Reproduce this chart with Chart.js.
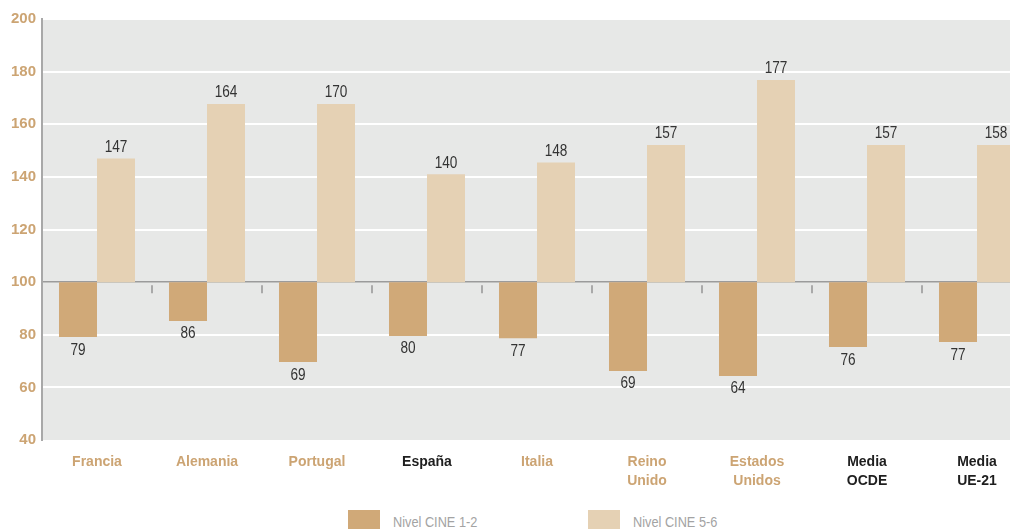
<!DOCTYPE html>
<html>
<head>
<meta charset="utf-8">
<script src="https://cdn.jsdelivr.net/npm/chart.js@4.4.1/dist/chart.umd.min.js"></script>
<style>
  html, body { margin: 0; padding: 0; background: #ffffff; overflow: hidden; }
  #wrap { position: relative; width: 1010px; height: 529px; overflow: hidden; }
  #c { position: absolute; left: 0; top: 0; }
  .leg { position: absolute; top: 510px; height: 19px; font-family: "Liberation Sans", Arial, sans-serif; font-size: 15px; color: #a3a3a3; }
  .sw { position: absolute; width: 32px; height: 19px; }
  .lt { position: absolute; top: 4px; white-space: nowrap; line-height: 15px; transform: scaleX(0.85); transform-origin: 0 0; }
</style>
</head>
<body>
<div id="wrap">
  <canvas id="c" width="1032" height="500"></canvas>
  <div class="leg" style="left:348px"><div class="sw" style="background:#d0a978;left:0"></div><div class="lt" style="left:45px">Nivel CINE 1-2</div></div>
  <div class="leg" style="left:588px"><div class="sw" style="background:#e5d1b4;left:0"></div><div class="lt" style="left:45px">Nivel CINE 5-6</div></div>
</div>
<script>
// ---- data ----
const categories = [
  'Francia', 'Alemania', 'Portugal', 'España', 'Italia',
  ['Reino', 'Unido'], ['Estados', 'Unidos'], ['Media', 'OCDE'], ['Media', 'UE-21']
];
const highlighted = [3, 7, 8];           // categories shown in black
const baseline = 100;
const seriesNames = ['Nivel CINE 1-2', 'Nivel CINE 5-6'];
// bar ends as drawn in the picture
const cineLow  = [79.1, 85.2, 69.6, 79.5, 78.7, 66.2, 64.3, 75.3, 77.2];
const cineHigh = [147.0, 167.7, 167.7, 141.0, 145.5, 152.1, 176.8, 152.1, 152.1];
// value labels as printed
const cineLowLabels  = ['79', '86', '69', '80', '77', '69', '64', '76', '77'];
const cineHighLabels = ['147', '164', '170', '140', '148', '157', '177', '157', '158'];
const yTicks = [40, 60, 80, 100, 120, 140, 160, 180, 200];

const TAN = '#cca473';
const sans = '"Liberation Sans", Arial, sans-serif';

const bgPlugin = {
  id: 'plotBg',
  beforeDraw(chart) {
    const { ctx, chartArea: a } = chart;
    ctx.save();
    ctx.fillStyle = '#e7e8e7';
    ctx.fillRect(a.left, a.top, a.right - a.left, a.bottom - a.top);
    ctx.restore();
  }
};

const sepTicks = {
  id: 'sepTicks',
  afterDatasetsDraw(chart) {
    const { ctx } = chart;
    const x = chart.scales.x, y = chart.scales.y;
    const y0 = y.getPixelForValue(baseline);
    ctx.save();
    ctx.strokeStyle = '#a9a9a9';
    ctx.lineWidth = 2;
    for (let i = 1; i < categories.length; i++) {
      const px = (x.getPixelForValue(i - 1) + x.getPixelForValue(i)) / 2;
      ctx.beginPath();
      ctx.moveTo(px, y0 + 3);
      ctx.lineTo(px, y0 + 11);
      ctx.stroke();
    }
    ctx.restore();
  }
};

function condensedText(ctx, text, x, y) {
  ctx.save();
  ctx.translate(x, y);
  ctx.scale(0.85, 1);
  ctx.fillText(text, 0, 0);
  ctx.restore();
}

const valueLabels = {
  id: 'valueLabels',
  afterDatasetsDraw(chart) {
    const { ctx } = chart;
    ctx.save();
    ctx.font = '16px ' + sans;
    ctx.fillStyle = '#333333';
    ctx.textAlign = 'center';
    ctx.textBaseline = 'middle';
    const lowMeta = chart.getDatasetMeta(0);
    const highMeta = chart.getDatasetMeta(1);
    lowMeta.data.forEach((bar, i) => {
      const bottom = Math.max(bar.y, bar.base);
      condensedText(ctx, cineLowLabels[i], bar.x, bottom + 13);
    });
    highMeta.data.forEach((bar, i) => {
      const top = Math.min(bar.y, bar.base);
      condensedText(ctx, cineHighLabels[i], bar.x, top - 11);
    });
    ctx.restore();
  }
};

new Chart(document.getElementById('c'), {
  type: 'bar',
  data: {
    labels: categories,
    datasets: [
      {
        label: seriesNames[0],
        data: cineLow.map(v => [baseline, v]),
        backgroundColor: '#d0a978',
        borderWidth: 0
      },
      {
        label: seriesNames[1],
        data: cineHigh.map(v => [baseline, v]),
        backgroundColor: '#e5d1b4',
        borderWidth: 0
      }
    ]
  },
  options: {
    responsive: false,
    animation: false,
    layout: { padding: { top: 19, left: 0, right: 0, bottom: 0 } },
    categoryPercentage: 0.691,
    barPercentage: 1.0,
    plugins: {
      legend: { display: false },
      tooltip: { enabled: false }
    },
    scales: {
      x: {
        grid: { display: false, drawTicks: false },
        border: { display: false },
        ticks: {
          padding: 13,
          maxRotation: 0,
          autoSkip: false,
          font: { family: sans, size: 14, weight: 'bold', lineHeight: 1.36 },
          color: (c) => highlighted.includes(c.index) ? '#1e1e1e' : TAN
        },
        afterFit(s) { s.height = 60; }
      },
      y: {
        min: 40,
        max: 200,
        afterBuildTicks(s) { s.ticks = yTicks.map(v => ({ value: v })); },
        grid: {
          drawTicks: false,
          lineWidth: (c) => c.tick && c.tick.value === baseline ? 1.5 : 2,
          color: (c) => {
            if (!c.tick) return 'transparent';
            if (c.tick.value === baseline) return '#9b9b9b';
            if (c.tick.value === 40) return 'rgba(0,0,0,0)';
            return '#ffffff';
          }
        },
        border: { display: true, color: '#a8a8a8', width: 2 },
        ticks: {
          padding: 6,
          font: { family: sans, size: 15, weight: 'bold' },
          color: TAN
        },
        afterFit(s) { s.width = 42; }
      }
    }
  },
  plugins: [bgPlugin, sepTicks, valueLabels]
});
</script>
</body>
</html>
